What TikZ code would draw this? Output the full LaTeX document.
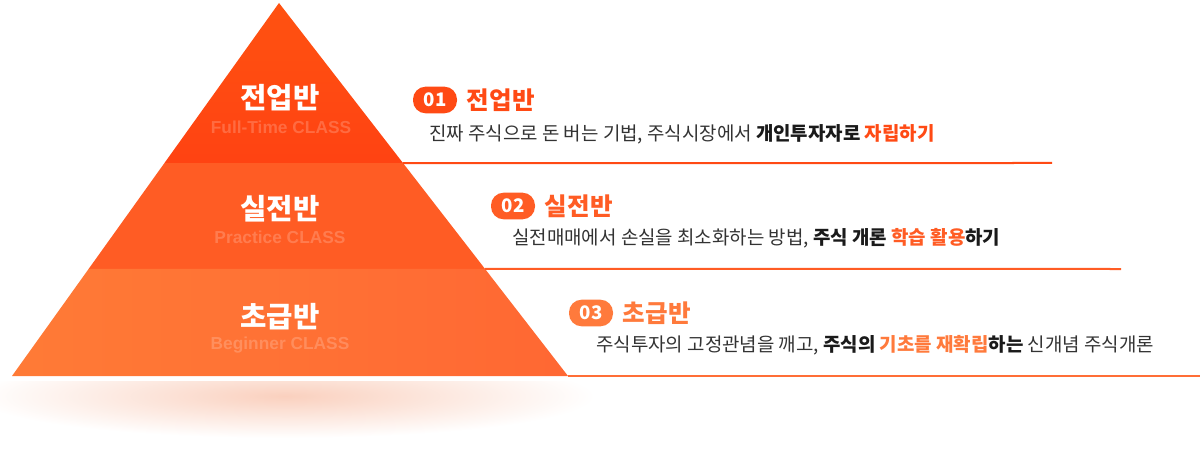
\documentclass[tikz,border=0pt]{standalone}
\usepackage{fontspec}
\setmainfont{Noto Sans CJK KR}
\newfontfamily\enfont{Liberation Sans}
\usepackage{xcolor}
\usetikzlibrary{positioning, calc}

\definecolor{lvone}{HTML}{FF4A14}
\definecolor{lvtwo}{HTML}{FF5C24}
\definecolor{lvthree}{HTML}{FF7A3C}
\definecolor{txtgray}{HTML}{333333}
\definecolor{txtdark}{HTML}{1A1A1A}
\definecolor{shadowpeach}{HTML}{FAD0BE}

\begin{document}
\begin{tikzpicture}[
  x=0.75pt, y=-0.75pt,
  tiertitle/.style={inner sep=0pt, text=white, font=\fontsize{21.5}{21.5}\selectfont\bfseries},
  tiersub/.style={inner sep=0pt, text=white, text opacity=0.2, font=\enfont\fontsize{13}{13}\selectfont\bfseries},
  badge/.style={rounded corners=9.5pt, minimum width=33pt, minimum height=20pt, inner sep=0pt, text=white, font=\fontsize{14}{14}\selectfont\bfseries},
  itemtitle/.style={inner sep=0pt, font=\fontsize{18.4}{18.4}\selectfont\bfseries},
  desc/.style={inner sep=0pt, text=txtgray, font=\fontsize{14.2}{14.2}\selectfont},
  sepline/.style={line width=1.5pt}
]
\useasboundingbox (0,0) rectangle (1201,463);

% shadow under the pyramid
\begin{scope}
  \clip (0,381) rectangle (620,463);
  \shade[inner color=shadowpeach, outer color=white] (285,396) ellipse (310 and 42);
\end{scope}

% pyramid corners
\coordinate (apex) at (279,3);
\coordinate (bl) at (12,376);
\coordinate (br) at (568,376);
\coordinate (l1) at ($(apex)!0.429!(bl)$);
\coordinate (r1) at ($(apex)!0.429!(br)$);
\coordinate (l2) at ($(apex)!0.713!(bl)$);
\coordinate (r2) at ($(apex)!0.713!(br)$);

% tiers
\shade[top color=lvone!85!orange, bottom color=lvone!90!red] (apex) -- (r1) -- (l1) -- cycle;
\fill[lvtwo] (l1) -- (r1) -- (r2) -- (l2) -- cycle;
\shade[left color=lvthree!90!orange, right color=lvthree!85!red] (l2) -- (r2) -- (br) -- (bl) -- cycle;

% separator lines
\coordinate (e1) at (1052,163);
\coordinate (e2) at (1121,269);
\coordinate (e3) at (1200,376);
\draw[sepline, lvone] (r1) -- (e1);
\draw[sepline, lvtwo] (r2) -- (e2);
\draw[sepline, lvthree!90!red] (br) -- (e3);

% tier labels
\node[tiertitle] (tt1) at (280,98) {전업반};
\node[tiersub] (ts1) at (281,127) {Full-Time CLASS};
\node[tiertitle] (tt2) at (280,209) {실전반};
\node[tiersub] (ts2) at (280,237) {Practice CLASS};
\node[tiertitle] (tt3) at (280,317) {초급반};
\node[tiersub] (ts3) at (280,345) {Beginner CLASS};

% level 01
\node[badge, fill=lvone] (b1) at (435,100) {01};
\node[itemtitle, text=lvone, right=7pt of b1] (t1) {전업반};
\node[desc, anchor=west] (d1) at (429,134) {진짜 주식으로 돈 버는 기법, 주식시장에서 \textbf{\color{txtdark}개인투자자로} \textbf{\color{lvone}자립하기}};

% level 02
\node[badge, fill=lvtwo] (b2) at (513,206) {02};
\node[itemtitle, text=lvtwo, right=7pt of b2] (t2) {실전반};
\node[desc, anchor=west] (d2) at (512,238) {실전매매에서 손실을 최소화하는 방법, \textbf{\color{txtdark}주식 개론} \textbf{\color{lvtwo}학습 활용}\textbf{\color{txtdark}하기}};

% level 03
\node[badge, fill=lvthree] (b3) at (591,313) {03};
\node[itemtitle, text=lvthree, right=7pt of b3] (t3) {초급반};
\node[desc, anchor=west] (d3) at (596,345) {주식투자의 고정관념을 깨고, \textbf{\color{txtdark}주식의} \textbf{\color{lvthree}기초를 재확립}\textbf{\color{txtdark}하는} 신개념 주식개론};

\end{tikzpicture}
\end{document}
